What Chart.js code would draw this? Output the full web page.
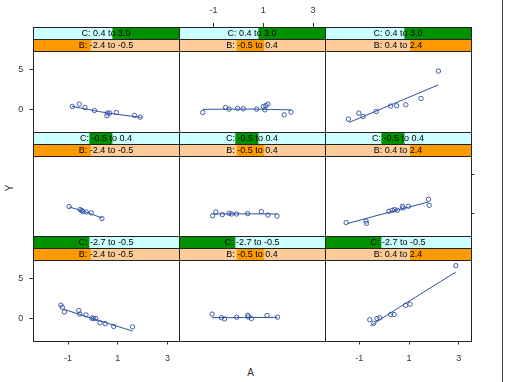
<!DOCTYPE html>
<html>
<head>
<meta charset="utf-8">
<script src="https://cdn.jsdelivr.net/npm/chart.js@4"></script>
<style>
body { margin: 0; background: #fff; }
#wrap { position: relative; width: 506px; height: 382px; overflow: hidden; font-family: "Liberation Sans", Arial, sans-serif; }
#wrap canvas { position: absolute; left: 0; top: 0; }
.lab { position: absolute; width: 12px; height: 12px; line-height: 12px; text-align: center; font-size: 10px; color: #333; }
#bord { position: absolute; left: 502px; top: 0; width: 1px; height: 382px; background: #444; }
</style>
</head>
<body>
<div id="wrap">
  <div id="bord"></div>
  <div class="lab" style="left:244.5px; top:367px;">A</div>
  <div class="lab" style="left:4px; top:182px; transform:rotate(-90deg);">Y</div>
</div>
<script>
// ticks et intervalles
const xTicks = [-1, 1, 3];
const yTicks = [0, 5];
const cRange = [-2.7, 3.0];
const bRange = [-2.4, 2.4];
const cIntervals = [[0.4, 3.0], [-0.5, 0.4], [-2.7, -0.5]];
const bIntervals = [[-2.4, -0.5], [-0.5, 0.4], [0.4, 2.4]];
const cLabels = ["C: 0.4 to 3.0", "C: -0.5 to 0.4", "C: -2.7 to -0.5"];
const bLabels = ["B: -2.4 to -0.5", "B: -0.5 to 0.4", "B: 0.4 to 2.4"];

// rangée 1 (C: 0.4 to 3.0)
const a_r1c1 = [-0.83, -0.55, -0.32, 0.06, 0.58, 0.56, 0.67, 0.94, 1.67, 1.9];
const y_r1c1 = [0.38, 0.68, 0.25, -0.13, -0.45, -0.79, -0.45, -0.38, -0.75, -0.96];
const a_r1c2 = [-1.44, -0.52, -0.38, -0.04, 0.19, 0.73, 1.0, 1.06, 1.1, 1.18, 1.84, 2.11];
const y_r1c2 = [-0.38, 0.25, 0.05, 0.13, 0.09, 0.05, 0.38, -0.04, 0.5, 0.68, -0.67, -0.33];
const a_r1c3 = [-1.44, -1.02, -0.85, -0.32, 0.26, 0.5, 0.87, 1.48, 2.18];
const y_r1c3 = [-1.21, -0.45, -0.88, -0.25, 0.43, 0.47, 0.59, 1.38, 4.83];

// rangée 2 (C: -0.5 to 0.4)
const a_r2c1 = [-0.96, -0.52, -0.45, -0.41, -0.27, -0.07, 0.36];
const y_r2c1 = [0.94, 0.55, 0.45, 0.3, 0.25, 0.13, -0.58];
const a_r2c2 = [-1.04, -0.91, -0.65, -0.38, -0.28, -0.08, 0.37, 0.92, 1.18, 1.55];
const y_r2c2 = [-0.23, 0.25, -0.08, 0.09, 0.0, 0.0, 0.05, 0.3, -0.13, -0.26];
const a_r2c3 = [-1.53, -0.73, -0.71, 0.19, 0.33, 0.42, 0.53, 0.73, 0.76, 0.97, 1.78, 1.81];
const y_r2c3 = [-1.08, -0.88, -1.17, 0.34, 0.47, 0.55, 0.47, 0.97, 0.75, 0.97, 1.85, 1.09];

// rangée 3 (C: -2.7 to -0.5)
const a_r3c1 = [-1.29, -1.23, -1.15, -0.57, -0.53, -0.28, -0.05, 0.02, 0.11, 0.28, 0.49, 0.83, 1.59];
const y_r3c1 = [1.68, 1.4, 0.83, 1.0, 0.55, 0.45, 0.05, 0.0, 0.0, -0.55, -0.65, -1.0, -1.05];
const a_r3c2 = [-1.06, -0.69, -0.56, -0.07, 0.37, 0.4, 0.52, 1.15, 1.57];
const y_r3c2 = [0.55, 0.1, -0.05, 0.15, 0.4, 0.2, 0.0, 0.38, 0.16];
const a_r3c3 = [-0.58, -0.42, -0.29, -0.18, 0.26, 0.4, 0.86, 1.04, 2.88];
const y_r3c3 = [-0.15, -0.6, 0.0, 0.1, 0.5, 0.5, 1.65, 1.8, 6.65];

// courbes lissées
const fitA_r1c1 = [-0.85, 0.6, 1.95];
const fitY_r1c1 = [0.4, -0.45, -1.0];
const fitA_r1c2 = [-1.44, 0.5, 2.11];
const fitY_r1c2 = [0.02, 0.05, -0.05];
const fitA_r1c3 = [-1.41, 0.4, 2.18];
const fitY_r1c3 = [-1.63, 0.75, 3.1];
const fitA_r2c1 = [-0.96, -0.3, 0.36];
const fitY_r2c1 = [0.9, 0.25, -0.5];
const fitA_r2c2 = [-1.04, 0.2, 1.55];
const fitY_r2c2 = [0.0, 0.02, 0.0];
const fitA_r2c3 = [-1.49, 0.2, 1.78];
const fitY_r2c3 = [-1.21, 0.22, 1.51];
const fitA_r3c1 = [-1.18, 0.2, 1.6];
const fitY_r3c1 = [1.16, -0.22, -1.59];
const fitA_r3c2 = [-1.06, 0.25, 1.57];
const fitY_r3c2 = [0.1, 0.12, 0.14];
const fitA_r3c3 = [-0.56, 0.3, 2.87];
const fitY_r3c3 = [-0.95, 0.8, 5.83];

const ptsA = [[a_r1c1, a_r1c2, a_r1c3], [a_r2c1, a_r2c2, a_r2c3], [a_r3c1, a_r3c2, a_r3c3]];
const ptsY = [[y_r1c1, y_r1c2, y_r1c3], [y_r2c1, y_r2c2, y_r2c3], [y_r3c1, y_r3c2, y_r3c3]];
const fitA = [[fitA_r1c1, fitA_r1c2, fitA_r1c3], [fitA_r2c1, fitA_r2c2, fitA_r2c3], [fitA_r3c1, fitA_r3c2, fitA_r3c3]];
const fitY = [[fitY_r1c1, fitY_r1c2, fitY_r1c3], [fitY_r2c1, fitY_r2c2, fitY_r2c3], [fitY_r3c1, fitY_r3c2, fitY_r3c3]];

// géométrie des panneaux
const colLeft = [33.3, 178.8, 324.5];
const colW = 146;
const rowTop = [27, 131.5, 236];
const rowH = 104.5;
const stripH = 12;
const axisSize = 22; // place réservée aux axes (labels)
const blue = "#2b4f9f";
const font = '"Liberation Sans", Arial, sans-serif';

function toXY(xs, ys) {
  const out = [];
  for (let i = 0; i < xs.length; i++) out.push({ x: xs[i], y: ys[i] });
  return out;
}

function stripPlugin(r, c) {
  return {
    id: "strips",
    afterDraw(chart) {
      const ctx = chart.ctx;
      const a = chart.chartArea;
      // bords arrondis au pixel pour des traits nets
      const L = Math.round(a.left), R = Math.round(a.right);
      const T = Math.round(a.top), B = Math.round(a.bottom);
      const w = R - L;
      const frac = (v, rg) => L + (v - rg[0]) / (rg[1] - rg[0]) * w;
      ctx.save();
      // bande C
      ctx.fillStyle = "#ccffff";
      ctx.fillRect(L, T, w, stripH);
      ctx.fillStyle = "#009000";
      let x1 = frac(cIntervals[r][0], cRange), x2 = frac(cIntervals[r][1], cRange);
      ctx.fillRect(x1, T, x2 - x1, stripH);
      // bande B
      ctx.fillStyle = "#ffcc99";
      ctx.fillRect(L, T + stripH, w, stripH);
      ctx.fillStyle = "#ff9900";
      x1 = frac(bIntervals[c][0], bRange); x2 = frac(bIntervals[c][1], bRange);
      ctx.fillRect(x1, T + stripH, x2 - x1, stripH);
      // bordures
      ctx.strokeStyle = "#222";
      ctx.lineWidth = 1;
      ctx.strokeRect(L + 0.5, T + 0.5, w, stripH);
      ctx.strokeRect(L + 0.5, T + stripH + 0.5, w, stripH);
      ctx.strokeRect(L + 0.5, T + 0.5, w, B - T);
      // textes
      ctx.fillStyle = "#000";
      ctx.font = "9px " + font;
      ctx.textAlign = "center";
      ctx.textBaseline = "middle";
      ctx.fillText(cLabels[r], (L + R) / 2, T + stripH / 2 + 1);
      ctx.fillText(bLabels[c], (L + R) / 2, T + stripH * 1.5 + 1);
      ctx.restore();
    }
  };
}

document.addEventListener("DOMContentLoaded", () => {
  const wrap = document.getElementById("wrap");

  for (let r = 0; r < 3; r++) {
    for (let c = 0; c < 3; c++) {
      const cv = document.createElement("canvas");
      cv.width = 506;
      cv.height = 382;
      wrap.appendChild(cv);

      // axes alternés comme dans lattice
      const showX = (r === 0 && c === 1) || (r === 2 && c !== 1);
      const showY = (c === 0 && r !== 1) || (c === 2 && r === 1);
      const yLabels = r !== 1;

      // padding = bord du panneau moins la place des axes visibles
      const pad = {
        left: colLeft[c],
        right: 506 - colLeft[c] - colW,
        top: rowTop[r],
        bottom: 382 - rowTop[r] - rowH,
      };
      if (showX && r === 0) pad.top -= axisSize;
      if (showX && r === 2) pad.bottom -= axisSize;
      if (showY && r !== 1) pad.left -= axisSize;
      if (showY && r === 1) pad.right -= axisSize;

      new Chart(cv.getContext("2d"), {
        type: "scatter",
        data: {
          datasets: [
            {
              type: "line",
              data: toXY(fitA[r][c], fitY[r][c]),
              borderColor: blue,
              borderWidth: 1,
              pointRadius: 0,
              tension: 0.3,
              fill: false,
            },
            {
              data: toXY(ptsA[r][c], ptsY[r][c]),
              pointRadius: 2.2,
              pointBorderWidth: 0.9,
              pointBorderColor: blue,
              pointBackgroundColor: "rgba(0,0,0,0)",
            },
          ],
        },
        options: {
          responsive: false,
          animation: false,
          devicePixelRatio: 1,
          layout: { padding: pad },
          plugins: { legend: { display: false }, tooltip: { enabled: false } },
          scales: {
            x: {
              type: "linear",
              min: -2.4,
              max: 3.47,
              display: showX,
              position: r === 0 ? "top" : "bottom",
              afterFit: (s) => { s.height = showX ? axisSize : 0; },
              afterBuildTicks: (s) => { s.ticks = xTicks.map((v) => ({ value: v })); },
              grid: { drawOnChartArea: false, tickLength: 4, tickColor: "#333" },
              border: { display: false },
              ticks: { font: { size: 9, family: font }, color: "#333", padding: r === 0 ? 7 : 9, maxRotation: 0, autoSkip: false },
            },
            y: {
              type: "linear",
              min: -2.77,
              max: 10.38,
              display: showY,
              position: r === 1 ? "right" : "left",
              afterFit: (s) => { s.width = showY ? axisSize : 0; },
              afterBuildTicks: (s) => { s.ticks = yTicks.map((v) => ({ value: v })); },
              grid: { drawOnChartArea: false, tickLength: 4, tickColor: "#333" },
              border: { display: false },
              ticks: { font: { size: 9, family: font }, color: yLabels ? "#333" : "rgba(0,0,0,0)", padding: 6, autoSkip: false },
            },
          },
        },
        plugins: [stripPlugin(r, c)],
      });
    }
  }
});
</script>
</body>
</html>
